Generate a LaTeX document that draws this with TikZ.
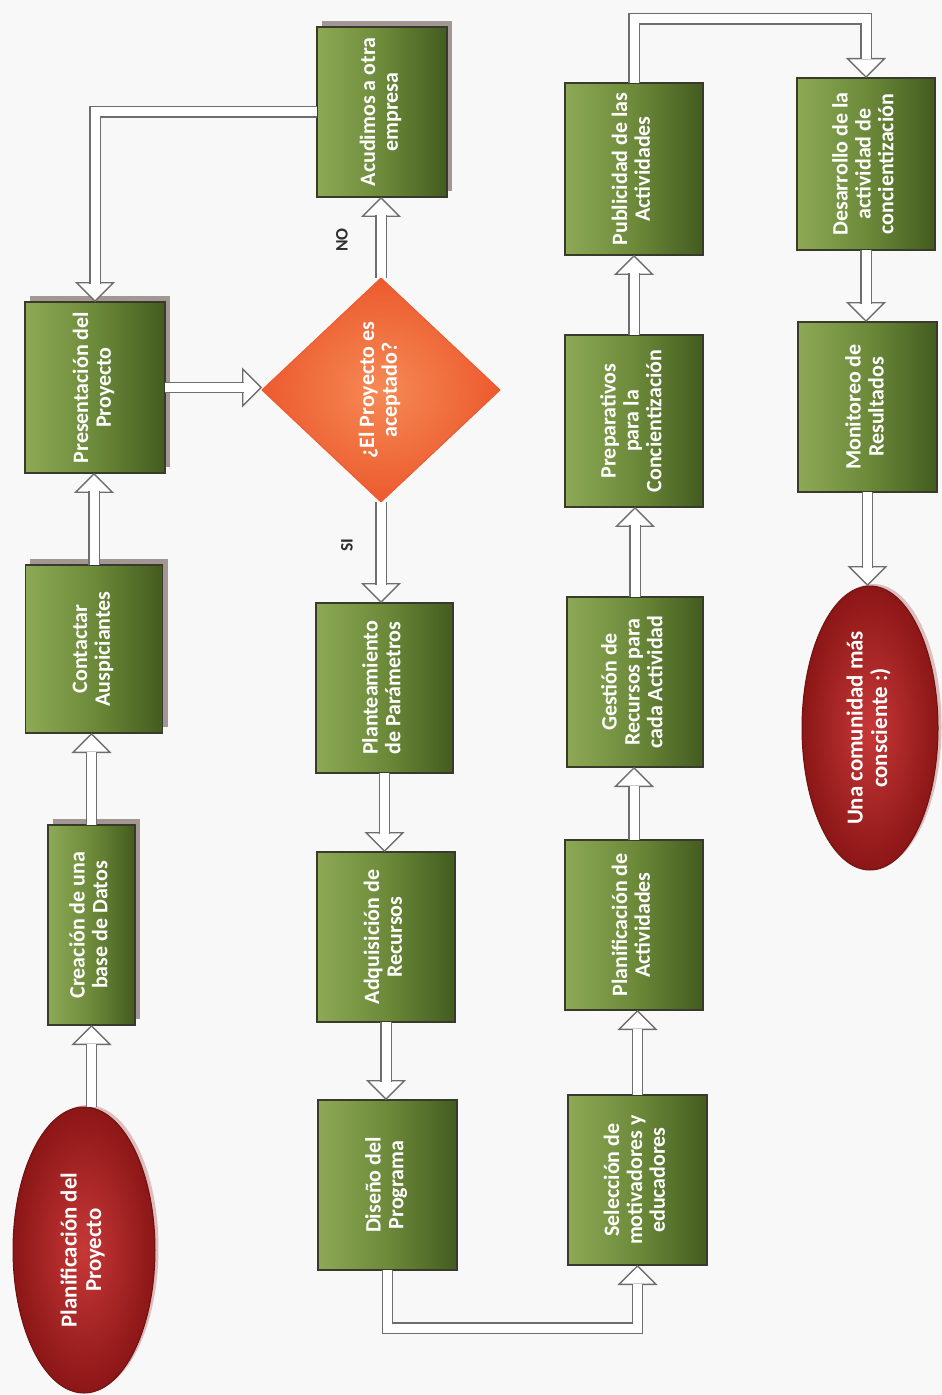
\documentclass[tikz,border=0pt]{standalone}
\usepackage{fontspec}
\usepackage{graphicx}
\setmainfont{Carlito}
\usetikzlibrary{shapes.geometric,arrows.meta,shadows,calc}
\definecolor{gl}{HTML}{8DA956}
\definecolor{gm}{HTML}{6C8A3A}
\definecolor{gd}{HTML}{435C1F}
\definecolor{gb}{HTML}{3A3A2C}
\definecolor{shc}{HTML}{A39794}
\definecolor{ag}{HTML}{6E6E6E}
\definecolor{ori}{HTML}{F68A55}
\definecolor{oro}{HTML}{EC5A2E}
\definecolor{rdi}{HTML}{C73838}
\definecolor{rdo}{HTML}{8C1616}
\definecolor{rdb}{HTML}{6E1212}
\definecolor{rsh}{HTML}{DDBDBD}
\definecolor{bgc}{HTML}{F8F8F8}
\definecolor{labc}{HTML}{2E2E2E}
\newcommand{\rt}[1]{\rotatebox{90}{\begin{tabular}{@{}c@{}}#1\end{tabular}}}
\newcommand{\conn}[1]{\draw[arrowtip] #1; \draw[shaft] #1;}
\begin{document}
\begin{tikzpicture}[x=0.02cm,y=-0.02cm,
  gbox/.style 2 args={rectangle, minimum width=#1*0.02cm, minimum height=#2*0.02cm,
    inner sep=0pt, outer sep=0pt, draw=gb, line width=0.025cm,
    left color=gl, right color=gd, middle color=gm, text=white,
    font=\bfseries\fontsize{12.5}{13}\selectfont},
  sbox/.style={general shadow={fill=shc, shadow xshift=0.1cm, shadow yshift=0.12cm}},
  endell/.style 2 args={ellipse, minimum width=#1*0.02cm, minimum height=#2*0.02cm,
    inner sep=0pt, outer sep=0pt, draw=rdb, line width=0.02cm,
    inner color=rdi, outer color=rdo, text=white,
    font=\bfseries\fontsize{13}{14}\selectfont,
    general shadow={fill=rsh, shadow xshift=0.07cm, shadow yshift=0.04cm}},
  decis/.style={diamond, minimum width=238*0.02cm, minimum height=224*0.02cm,
    inner sep=0pt, outer sep=0pt, draw=oro, line width=0.02cm,
    inner color=ori, outer color=oro, text=white,
    font=\bfseries\fontsize{12.5}{13}\selectfont},
  lab/.style={text=labc, inner sep=0pt, font=\bfseries\fontsize{10}{12}\selectfont},
  shaft/.style={draw=ag, line width=0.028cm, double=white, double distance=0.18cm,
    shorten >=0.37cm},
  arrowtip/.style={draw=ag, line width=0.028cm,
    -{Triangle[length=0.4cm, width=0.8cm, fill=white]}}
]
\useasboundingbox (0,0) rectangle (942,1395);
\fill[bgc] (0,0) rectangle (942,1395);

% column 1
\node[gbox={140}{171}, sbox] (pres) at (95,387.5) {\rt{Presentación del\\Proyecto}};
\node[gbox={137}{168}, sbox] (con) at (94,649) {\rt{Contactar\\Auspiciantes}};
\node[gbox={87}{200}, sbox] (cre) at (91.5,925) {\rt{Creación de una\\base de Datos}};
\node[endell={142}{286}] (ell1) at (84,1250) {\rt{Planificación del\\Proyecto}};

% column 2
\node[gbox={130}{170}, sbox] (acu) at (382,112) {\rt{Acudimos a otra\\empresa}};
\node[decis] (dia) at (381,390) {\rt{¿El Proyecto es\\aceptado?}};
\node[gbox={137}{170}] (pla) at (384.5,688) {\rt{Planteamiento\\de Parámetros}};
\node[gbox={138}{170}] (adq) at (386,937) {\rt{Adquisición de\\Recursos}};
\node[gbox={139}{170}] (dis) at (387.5,1185) {\rt{Diseño del\\Programa}};

% column 3
\node[gbox={139}{170}] (sel) at (637.5,1180) {\rt{Selección de\\motivadores y\\educadores}};
\node[gbox={138}{170}] (pac) at (634,925) {\rt{Planificación de\\Actividades}};
\node[gbox={136}{170}] (ges) at (635,682) {\rt{Gestión de\\Recursos para\\cada Actividad}};
\node[gbox={138}{172}] (pre) at (634,421) {\rt{Preparativos\\para la\\Concientización}};
\node[gbox={138}{172}] (pub) at (634,169) {\rt{Publicidad de las\\Actividades}};

% column 4
\node[gbox={138}{172}] (des) at (866,164) {\rt{Desarrollo de la\\actividad de\\concientización}};
\node[gbox={139}{170}] (mon) at (867.5,407) {\rt{Monitoreo de\\Resultados}};
\node[endell={136}{284}] (ell2) at (870,728) {\rt{Una comunidad más\\consciente :)}};

% labels
\node[lab] (no) at (342,240) {\rotatebox{90}{NO}};
\node[lab] (si) at (347,545) {\rotatebox{90}{SI}};

% bend points
\coordinate (topbend) at (634,19);
\coordinate (botbend) at (387.5,1328);

% connectors
\conn{(ell1.north -| cre.south) -- (cre.south)}
\conn{(cre.north) -- (cre.north |- con.south)}
\conn{(con.north) -- (con.north |- pres.south)}
\conn{(pres.east) -- (pres.east -| dia.west)}
\conn{(dia.north) -- (dia.north |- acu.south)}
\conn{(acu.west) -| (pres.north)}
\conn{(dia.south) -- (dia.south |- pla.north)}
\conn{(pla.south) -- (pla.south |- adq.north)}
\conn{(adq.south) -- (adq.south |- dis.north)}
\conn{(dis.south) -- (botbend) -| (sel.south)}
\conn{(sel.north) -- (sel.north |- pac.south)}
\conn{(pac.north) -- (pac.north |- ges.south)}
\conn{(ges.north) -- (ges.north |- pre.south)}
\conn{(pre.north) -- (pre.north |- pub.south)}
\conn{(pub.north) -- (topbend) -| (des.north)}
\conn{(des.south) -- (des.south |- mon.north)}
\conn{(mon.south) -- (mon.south |- ell2.north)}
\end{tikzpicture}
\end{document}
